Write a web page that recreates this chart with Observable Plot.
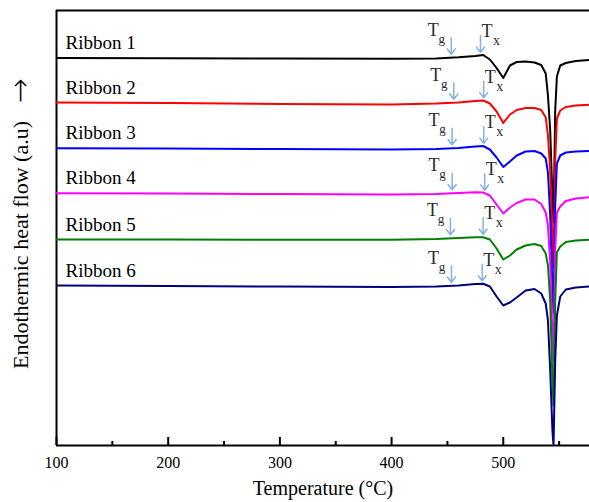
<!DOCTYPE html>
<html><head><meta charset="utf-8">
<script src="https://cdn.jsdelivr.net/npm/d3@7"></script>
<script src="https://cdn.jsdelivr.net/npm/@observablehq/plot@0.6"></script>
<style>html,body{margin:0;padding:0;background:#fff}</style>
</head><body><div id="chart"></div>
<script>
// ---- data (heat flow in arbitrary units) ----
const temps = [100,200,300,400,440,460,475,482,488,494,500,506,512,520,528,534,538,540,542,544,545,546.5,548,551,556,565,577];
const ribbon1 = [38.75,38.72,38.7,38.68,38.7,38.82,38.95,39.05,38.6,37.75,36.75,38.0,38.35,38.4,38.3,38.05,37.2,35.0,31.5,25.0,22.3,33.5,36.9,38.0,38.25,38.45,38.55];
const ribbon2 = [34.3,34.25,34.15,34.1,34.2,34.3,34.45,34.5,34.2,33.4,32.25,33.1,33.55,33.75,33.75,33.55,32.8,31.0,27.5,20.5,17.8,28.5,32.7,33.5,33.85,34.0,34.07];
const ribbon3 = [29.73,29.7,29.65,29.6,29.65,29.75,29.9,29.95,29.6,28.8,27.85,28.4,29.0,29.4,29.45,29.2,28.7,27.3,23.0,16.0,13.2,24.0,28.2,29.0,29.3,29.4,29.45];
const ribbon4 = [25.23,25.2,25.15,25.1,25.15,25.25,25.33,25.3,25.0,24.1,23.2,23.8,24.25,24.6,24.6,24.15,23.3,22.0,18.3,11.0,8.5,19.5,23.3,23.9,24.45,24.7,24.83];
const ribbon5 = [20.6,20.6,20.57,20.57,20.65,20.75,20.83,20.83,20.6,19.7,18.6,19.0,19.6,20.0,20.15,19.95,19.2,18.0,14.5,6.5,4.0,14.5,19.3,19.9,20.35,20.5,20.57];
const ribbon6 = [16.0,15.95,15.9,15.85,15.9,16.0,16.15,16.17,15.9,14.9,14.0,14.3,14.8,15.5,15.65,15.2,14.2,12.5,7.5,1.5,0.0,8.5,13.0,14.9,15.6,15.8,15.9];
const names = ["Ribbon 1","Ribbon 2","Ribbon 3","Ribbon 4","Ribbon 5","Ribbon 6"];
const colors = ["#000000","#ff0000","#0000ff","#ff00ff","#008000","#000080"];
const tgTemps = [453.4,455.7,454.2,454.2,452.7,453.6];
const txTemps = [479.6,482.5,482.5,483.4,482.0,481.1];
const majorTicks = [100,200,300,400,500];
const minorTicks = [150,250,350,450,550];
const xLabel = "Temperature (°C)";
const yLabel = "Endothermic heat flow (a.u)";
const yArrow = "→";
const tLetter = "T", gLetter = "g", xLetter = "x";

// ---- layout ----
const W = 589, H = 502, mT = 10, mB = 57, mL = 56, mR = 0;
const plotH = H - mT - mB;
const xMax = 577.2, yMax = 43.5;
const serif = '"Liberation Serif","Times New Roman",serif';

const series = [ribbon1, ribbon2, ribbon3, ribbon4, ribbon5, ribbon6];
const rows = [];
names.forEach((n, i) => series[i].forEach((v, j) => rows.push({name: n, t: temps[j], v})));
function at(s, t) {
  const j = Math.max(1, d3.bisectRight(temps, t));
  const t0 = temps[j-1], t1 = temps[j];
  return s[j-1] + (s[j] - s[j-1]) * (t - t0) / (t1 - t0);
}
const ann = names.map((n, i) => ({
  name: n, base: series[i][0],
  tg: tgTemps[i], tx: txTemps[i],
  vg: at(series[i], tgTemps[i]), vx: at(series[i], txTemps[i])
}));
const arrowColor = "#86b1df";
const labelColor = "#2a2a2a";

const chart = Plot.plot({
  width: W, height: H,
  marginTop: mT, marginBottom: mB, marginLeft: mL, marginRight: mR,
  style: {fontFamily: serif, fontSize: "16px", color: "#000", background: "#fff", overflow: "visible"},
  x: {domain: [100, xMax], axis: null},
  y: {domain: [0, yMax], axis: null},
  color: {domain: names, range: colors},
  marks: [
    Plot.axisX({ticks: majorTicks, tickSize: 0, tickPadding: 11, fontSize: 16, label: null, tickFormat: d => String(d)}),
    Plot.ruleX(majorTicks, {x: d => d, insetTop: plotH - 8, strokeWidth: 2, stroke: "#000"}),
    Plot.ruleX(minorTicks, {x: d => d, insetTop: plotH - 4, strokeWidth: 2, stroke: "#000"}),
    Plot.ruleY([yMax], {strokeWidth: 2, stroke: "#000"}),
    Plot.ruleY([0], {strokeWidth: 2, stroke: "#000"}),
    Plot.ruleX([100], {strokeWidth: 2, stroke: "#000"}),
    Plot.line(rows, {x: "t", y: "v", z: "name", stroke: "name", strokeWidth: 2, clip: true}),
    Plot.text(ann, {frameAnchor: "left", y: "base", text: "name", dx: 9, dy: -9, lineAnchor: "bottom", textAnchor: "start", fontSize: 19, fill: "#000"}),
    Plot.arrow(ann, {x1: "tg", x2: "tg", y1: d => d.vg + 2.0, y2: "vg", insetEnd: 3.5, stroke: arrowColor, strokeWidth: 1.5, headLength: 7, headAngle: 75}),
    Plot.arrow(ann, {x1: "tx", x2: "tx", y1: d => d.vx + 1.95, y2: "vx", insetEnd: 3, stroke: arrowColor, strokeWidth: 1.5, headLength: 7, headAngle: 75}),
    Plot.text(ann, {x: "tg", y: "vg", text: () => tLetter, dx: -18, dy: -22, lineAnchor: "bottom", fontSize: 18, fill: labelColor}),
    Plot.text(ann, {x: "tg", y: "vg", text: () => gLetter, dx: -9.5, dy: -15, lineAnchor: "bottom", fontSize: 13, fill: labelColor}),
    Plot.text(ann, {x: "tx", y: "vx", text: () => tLetter, dx: 6.5, dy: -18, lineAnchor: "bottom", fontSize: 18, fill: labelColor}),
    Plot.text(ann, {x: "tx", y: "vx", text: () => xLetter, dx: 16, dy: -10, lineAnchor: "bottom", fontSize: 14, fill: labelColor}),
    Plot.text([xLabel], {frameAnchor: "bottom", text: d => d, dy: 49, fontSize: 20, fill: "#000"}),
    Plot.text([yLabel], {frameAnchor: "left", text: d => d, rotate: -90, dx: -36, dy: 17, textAnchor: "middle", fontSize: 22, fill: "#000"}),
    Plot.text([yArrow], {frameAnchor: "left", text: d => d, rotate: -90, dx: -36, dy: -137, textAnchor: "middle", fontSize: 30, fontFamily: "DejaVu Sans", fontWeight: 300, fill: "#000"})
  ]
});
document.getElementById("chart").appendChild(chart);
</script>
</body></html>
